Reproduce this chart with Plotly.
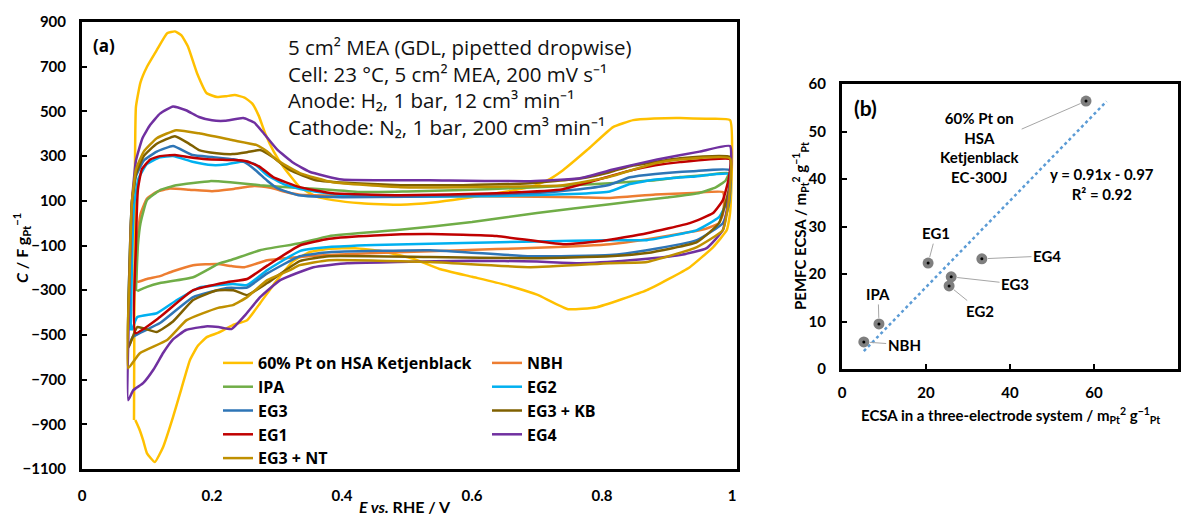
import plotly.graph_objects as go

W, H = 1186, 516
FONT = "Lato"
WIDE = "Open Sans"

# ---------------- Panel (a): cyclic voltammograms (E / V vs. C / F g_Pt^-1) ----------------
series_names = ["60% Pt on HSA Ketjenblack", "NBH", "IPA", "EG2", "EG3",
                "EG3 + KB", "EG1", "EG4", "EG3 + NT"]
series_colors = ["#FFC000", "#ED7D31", "#70AD47", "#00B0F0", "#2E75B6",
                 "#7F6000", "#C00000", "#7030A0", "#BF9000"]

pt60_E = [0.080, 0.081, 0.083, 0.090, 0.100, 0.115, 0.131, 0.143, 0.153, 0.163, 0.177, 0.192,
          0.208, 0.222, 0.235, 0.250, 0.262, 0.272, 0.282, 0.295, 0.310, 0.335, 0.360, 0.386,
          0.430, 0.490, 0.540, 0.586, 0.640, 0.689, 0.715, 0.740, 0.777, 0.817, 0.848, 0.880,
          0.920, 0.960, 0.997,
          0.997, 0.992, 0.971, 0.935, 0.869, 0.792, 0.748, 0.700, 0.650, 0.600, 0.550, 0.510,
          0.460, 0.420, 0.380, 0.350, 0.325, 0.300, 0.274, 0.254, 0.232, 0.210, 0.192, 0.178,
          0.166, 0.153, 0.140, 0.125, 0.112, 0.100, 0.094, 0.088, 0.082]
pt60_C = [-881, 0, 520, 630, 700, 774, 850, 858, 840, 790, 671, 581,
          564, 568, 573, 562, 535, 480, 400, 320, 251, 161, 120, 103,
          89, 82, 92, 110, 135, 161, 190, 237, 327, 430, 461, 468,
          470, 467, 461,
          45, -31, -107, -197, -300, -376, -385, -320, -275, -240, -205, -160,
          -125, -112, -115, -130, -170, -255, -358, -434, -456, -490, -510, -550,
          -613, -740, -868, -1000, -1069, -1030, -971, -920, -881]

nbh_E = [0.083, 0.085, 0.090, 0.100, 0.115, 0.135, 0.165, 0.200, 0.230, 0.265, 0.290, 0.315,
         0.335, 0.380, 0.450, 0.600, 0.700, 0.766, 0.812, 0.882, 0.940, 0.986,
         0.988, 0.986, 0.980, 0.960, 0.935, 0.870, 0.812, 0.700, 0.638, 0.485, 0.380, 0.335,
         0.285, 0.250, 0.230, 0.208, 0.171, 0.140, 0.120, 0.100, 0.085]
nbh_C = [-264, -100, 40, 110, 140, 155, 150, 143, 152, 166, 158, 138,
         127, 124, 121, 120, 118, 116, 113, 128, 135, 139,
         100, 40, 0, -25, -40, -72, -94, -110, -116, -130, -142, -151,
         -166, -197, -192, -183, -188, -215, -237, -250, -264]

ipa_E = [0.083, 0.086, 0.090, 0.100, 0.120, 0.145, 0.171, 0.197, 0.228, 0.274, 0.335, 0.380,
         0.432, 0.500, 0.586, 0.660, 0.740, 0.812, 0.882, 0.920, 0.960, 0.995,
         0.990, 0.975, 0.950, 0.900, 0.812, 0.700, 0.600, 0.485, 0.380, 0.335, 0.274, 0.228,
         0.212, 0.171, 0.120, 0.100, 0.085]
ipa_C = [-304, -100, 0, 103, 148, 170, 180, 188, 183, 170, 157, 150,
         139, 142, 148, 156, 166, 179, 192, 206, 215, 224,
         190, 160, 135, 115, 85, 45, 5, -31, -58, -90, -121, -166,
         -179, -242, -268, -285, -304]

eg2_E = [0.075, 0.077, 0.080, 0.087, 0.100, 0.120, 0.140, 0.170, 0.200, 0.220, 0.250, 0.265,
         0.285, 0.310, 0.340, 0.400, 0.500, 0.640, 0.766, 0.812, 0.843, 0.882, 0.940, 0.997,
         0.993, 0.980, 0.946, 0.869, 0.812, 0.700, 0.586, 0.450, 0.380, 0.335, 0.285, 0.254,
         0.232, 0.200, 0.182, 0.146, 0.115, 0.085, 0.077]
eg2_C = [-480, -150, 80, 200, 265, 295, 300, 275, 260, 262, 277, 265,
         215, 175, 150, 125, 118, 121, 132, 142, 175, 195, 208, 219,
         100, 27, -31, -76, -76, -82, -89, -98, -107, -125, -210, -277,
         -272, -280, -286, -344, -403, -420, -480]

eg3_E = [0.071, 0.073, 0.077, 0.083, 0.095, 0.115, 0.140, 0.170, 0.200, 0.233, 0.250, 0.267,
         0.285, 0.300, 0.333, 0.400, 0.500, 0.600, 0.690, 0.766, 0.812, 0.843, 0.882, 0.940,
         0.997,
         0.995, 0.986, 0.946, 0.869, 0.812, 0.690, 0.535, 0.380, 0.335, 0.285, 0.254, 0.223,
         0.171, 0.120, 0.090, 0.078, 0.071]
eg3_C = [-555, -200, 100, 210, 280, 320, 345, 305, 296, 286, 273, 237,
         190, 157, 125, 116, 118, 125, 134, 152, 172, 205, 220, 232,
         237,
         80, 0, -76, -121, -143, -148, -121, -130, -148, -225, -288, -290,
         -331, -447, -490, -510, -555]

eg3kb_E = [0.071, 0.073, 0.077, 0.083, 0.095, 0.115, 0.143, 0.165, 0.180, 0.207, 0.232, 0.255,
           0.274, 0.294, 0.320, 0.360, 0.420, 0.490, 0.586, 0.689, 0.766, 0.812, 0.843, 0.882,
           0.920, 0.997,
           0.995, 0.980, 0.946, 0.869, 0.812, 0.690, 0.535, 0.380, 0.335, 0.285, 0.254, 0.233,
           0.208, 0.171, 0.140, 0.115, 0.085, 0.071]
eg3kb_C = [-560, -200, 100, 220, 300, 355, 389, 355, 327, 313, 309, 318,
           327, 295, 237, 192, 178, 170, 170, 179, 200, 228, 255, 274,
           290, 295,
           150, 0, -85, -134, -148, -157, -152, -148, -170, -268, -322, -300,
           -300, -344, -440, -487, -465, -560]

eg1_E = [0.082, 0.083, 0.086, 0.092, 0.105, 0.120, 0.143, 0.165, 0.192, 0.233, 0.253, 0.274,
         0.294, 0.335, 0.386, 0.490, 0.638, 0.740, 0.800, 0.843, 0.882, 0.920, 0.997,
         0.995, 0.986, 0.971, 0.935, 0.869, 0.800, 0.740, 0.638, 0.535, 0.450, 0.380, 0.335,
         0.285, 0.254, 0.223, 0.171, 0.120, 0.082]
eg1_C = [-492, -100, 150, 240, 285, 300, 305, 295, 286, 282, 277, 251,
         206, 161, 134, 125, 134, 152, 200, 235, 259, 273, 286,
         200, 103, 45, 0, -45, -80, -94, -58, -49, -55, -70, -100,
         -190, -250, -264, -300, -420, -492]

eg4_E = [0.071, 0.073, 0.077, 0.083, 0.093, 0.105, 0.120, 0.140, 0.160, 0.180, 0.200, 0.220,
         0.248, 0.265, 0.280, 0.300, 0.325, 0.350, 0.400, 0.535, 0.690, 0.766, 0.817, 0.885,
         0.950, 0.997,
         0.996, 0.986, 0.961, 0.920, 0.843, 0.766, 0.700, 0.600, 0.485, 0.408, 0.356, 0.305,
         0.274, 0.250, 0.230, 0.210, 0.190, 0.160, 0.140, 0.125, 0.110, 0.094, 0.079, 0.071]
eg4_C = [-792, -300, 100, 280, 380, 440, 490, 522, 505, 475, 460, 458,
         470, 450, 400, 330, 270, 230, 195, 192, 188, 201, 240, 285,
         320, 345,
         150, -31, -112, -143, -166, -179, -172, -168, -174, -179, -197, -255,
         -331, -415, -474, -465, -462, -478, -520, -580, -655, -716, -747, -792]

eg3nt_E = [0.071, 0.073, 0.077, 0.083, 0.095, 0.115, 0.145, 0.180, 0.232, 0.269, 0.285, 0.300,
           0.335, 0.386, 0.490, 0.586, 0.740, 0.810, 0.882, 0.920, 0.997,
           0.995, 0.986, 0.946, 0.869, 0.812, 0.690, 0.535, 0.380, 0.335, 0.320, 0.285, 0.254,
           0.232, 0.208, 0.161, 0.131, 0.089, 0.071]
eg3nt_C = [-649, -250, 100, 240, 320, 380, 416, 402, 371, 349, 320, 282,
           224, 183, 161, 161, 170, 206, 268, 285, 290,
           100, -31, -107, -174, -179, -197, -174, -166, -188, -210, -255, -331,
           -367, -380, -434, -523, -582, -649]

series_E = [pt60_E, nbh_E, ipa_E, eg2_E, eg3_E, eg3kb_E, eg1_E, eg4_E, eg3nt_E]
series_C = [pt60_C, nbh_C, ipa_C, eg2_C, eg3_C, eg3kb_C, eg1_C, eg4_C, eg3nt_C]

a_xticks = [0, 0.2, 0.4, 0.6, 0.8, 1.0]
a_xticktext = ["0", "0.2", "0.4", "0.6", "0.8", "1"]
a_yticks = [-1100, -900, -700, -500, -300, -100, 100, 300, 500, 700, 900]

# ---------------- Panel (b): ECSA comparison ----------------
b_labels = ["60% Pt on<br>HSA<br>Ketjenblack<br>EC-300J", "EG1", "EG4", "EG3", "EG2", "IPA", "NBH"]
b_x = [58.1, 20.5, 33.3, 26.0, 25.5, 8.8, 5.2]
b_y = [56.4, 22.3, 23.2, 19.4, 17.5, 9.5, 5.7]
trend_slope, trend_intercept = 0.91, -0.97
trend_x = [5.2, 63.0]
trend_y = [trend_slope * v + trend_intercept for v in trend_x]

# ---------------- helpers (pixel -> paper) ----------------
def px(x):
    return x / W

def py(y):
    return 1 - y / H

A_L, A_R, A_T, A_B = 82, 737, 22, 469
B_L, B_R, B_T, B_B = 842, 1178, 84, 369
a_xmax = 1.0 + (A_R - 732) / 650.0
zero_paper = py(A_B) + (0 - (-1100)) / 2000.0 * (py(A_T) - py(A_B))

fig = go.Figure()

for i, (name, col, E, C) in enumerate(zip(series_names, series_colors, series_E, series_C)):
    fig.add_trace(go.Scatter(
        x=E, y=C, mode="lines", name=name,
        line=dict(color=col, width=2.5, shape="spline", smoothing=0.4),
        xaxis="x", yaxis="y",
        legend="legend" if i % 2 == 0 else "legend2",
    ))

# trendline
fig.add_trace(go.Scatter(x=trend_x, y=trend_y, mode="lines",
                         line=dict(color="#5B9BD5", width=2.5, dash="dot"),
                         xaxis="x2", yaxis="y2", showlegend=False))
# points
fig.add_trace(go.Scatter(x=b_x, y=b_y, mode="markers",
                         marker=dict(color="#7F7F7F", size=11, line=dict(width=0)),
                         xaxis="x2", yaxis="y2", showlegend=False))
fig.add_trace(go.Scatter(x=b_x, y=b_y, mode="markers",
                         marker=dict(color="#000000", size=3, line=dict(width=0)),
                         xaxis="x2", yaxis="y2", showlegend=False))

tickfont = dict(family=FONT, size=15, color="black", weight="bold")
legfont = dict(family=WIDE, size=16, color="black", weight="bold")

fig.update_layout(
    width=W, height=H,
    margin=dict(l=0, r=0, t=0, b=0, autoexpand=False),
    paper_bgcolor="white", plot_bgcolor="white",
    font=dict(family=FONT, color="black"),
    xaxis=dict(domain=[px(A_L), px(A_R)], range=[0, a_xmax], anchor="y", automargin=False,
               tickvals=a_xticks, ticktext=a_xticktext, ticks="",
               showline=True, linewidth=2.5, linecolor="black", mirror=True,
               showgrid=False, zeroline=False, tickfont=tickfont, ticklabelstandoff=11),
    yaxis=dict(domain=[py(A_B), py(A_T)], range=[-1100, 900], anchor="x", automargin=False,
               tickvals=a_yticks, ticks="inside", ticklen=5, tickwidth=2, tickcolor="black",
               showline=True, linewidth=3, linecolor="black", mirror=True,
               showgrid=False, zeroline=False, tickfont=tickfont, ticklabelstandoff=10),
    xaxis3=dict(overlaying="x", anchor="free", position=zero_paper, range=[0, a_xmax],
                automargin=False,
                tickvals=a_xticks[1:], ticks="outside", ticklen=5, tickwidth=2, tickcolor="black",
                showticklabels=False, showline=True, linewidth=1.5, linecolor="black",
                showgrid=False, zeroline=False),
    xaxis4=dict(overlaying="x", anchor="free", position=zero_paper, range=[0, a_xmax],
                automargin=False,
                tickvals=a_xticks[1:], ticks="inside", ticklen=5, tickwidth=2, tickcolor="black",
                showticklabels=False, showline=False, showgrid=False, zeroline=False),
    xaxis2=dict(domain=[px(B_L), px(B_R)], range=[0, 80], anchor="y2", dtick=20, automargin=False,
                ticks="inside", ticklen=5, tickwidth=2, tickcolor="black",
                showline=True, linewidth=3, linecolor="black", mirror=True,
                showgrid=False, zeroline=False, tickfont=tickfont, ticklabelstandoff=8),
    yaxis2=dict(domain=[py(B_B), py(B_T)], range=[0, 60], anchor="x2", dtick=10, automargin=False,
                ticks="inside", ticklen=5, tickwidth=2, tickcolor="black",
                showline=True, linewidth=3, linecolor="black", mirror=True,
                showgrid=False, zeroline=False, tickfont=tickfont, ticklabelstandoff=10),
    legend=dict(x=px(218), y=py(346), xanchor="left", yanchor="top",
                bgcolor="rgba(0,0,0,0)", font=legfont, tracegroupgap=0, itemwidth=30),
    legend2=dict(x=px(487), y=py(346), xanchor="left", yanchor="top",
                 bgcolor="rgba(0,0,0,0)", font=legfont, tracegroupgap=0, itemwidth=30),
)

ann = []
# panel (a) labels and condition text
ann.append(dict(text="<b>(a)</b>", x=px(91), y=py(45), xref="paper", yref="paper",
                xanchor="left", yanchor="middle", showarrow=False,
                font=dict(family=WIDE, size=17)))
cond_lines = ["5 cm² MEA (GDL, pipetted dropwise)",
              "Cell: 23 °C, 5 cm² MEA, 200 mV s⁻¹",
              "Anode: H₂, 1 bar, 12 cm³ min⁻¹",
              "Cathode: N₂, 1 bar, 200 cm³ min⁻¹"]
ann.append(dict(text="<br>".join(cond_lines), x=px(286), y=py(31), xref="paper", yref="paper",
                xanchor="left", yanchor="top", align="left", showarrow=False,
                font=dict(family=WIDE, size=20.5, color="#111111")))
# axis titles (a)
ann.append(dict(text="<b><i>E vs.</i> RHE / V</b>", x=px(405), y=py(506), xref="paper", yref="paper",
                xanchor="center", yanchor="middle", showarrow=False, font=dict(size=16)))
ann.append(dict(text="<b><i>C</i> / F g<sub>Pt</sub><sup>−1</sup></b>", x=px(22), y=py(248),
                xref="paper", yref="paper", xanchor="center", yanchor="middle",
                textangle=-90, showarrow=False, font=dict(size=16)))
# panel (b)
ann.append(dict(text="<b>(b)</b>", x=px(852), y=py(107), xref="paper", yref="paper",
                xanchor="left", yanchor="middle", showarrow=False, font=dict(size=21)))
ann.append(dict(text="<b>ECSA in a three-electrode system / m<sub>Pt</sub><sup>2</sup> g<sup>−1</sup><sub>Pt</sub></b>",
                x=px(1010), y=py(415), xref="paper", yref="paper", xanchor="center", yanchor="middle",
                showarrow=False, font=dict(size=15)))
ann.append(dict(text="<b>PEMFC ECSA / m<sub>Pt</sub><sup>2</sup> g<sup>−1</sup><sub>Pt</sub></b>",
                x=px(800), y=py(226), xref="paper", yref="paper", xanchor="center", yanchor="middle",
                textangle=-90, showarrow=False, font=dict(size=15)))
ann.append(dict(text="<b>y = 0.91x - 0.97<br>R² = 0.92</b>", x=61.9, y=38.9, xref="x2", yref="y2",
                xanchor="center", yanchor="middle", showarrow=False, font=dict(size=15)))

label_pos = [(32.9, 46.7), (22.4, 28.6), (48.8, 23.8), (41.2, 17.9), (32.9, 12.2), (8.6, 15.8), (14.8, 5.1)]
for lab, xv, yv, (lx, ly) in zip(b_labels, b_x, b_y, label_pos):
    ann.append(dict(text="<b>" + lab + "</b>", x=xv, y=yv, xref="x2", yref="y2",
                    ax=lx, ay=ly, axref="x2", ayref="y2", showarrow=True,
                    arrowhead=0, arrowwidth=1, arrowcolor="#A6A6A6", standoff=6,
                    font=dict(size=15)))

fig.update_layout(annotations=ann)
fig.write_html("out.html", config={"displayModeBar": False},
               post_script="document.body.style.margin='0px';document.body.style.padding='0px';")
